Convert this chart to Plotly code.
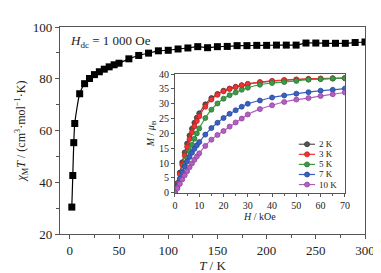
import plotly.graph_objects as go

# Main chart: chi_M T vs T
T = [2, 3, 4, 5, 10, 15, 20, 25, 30, 35, 40, 45, 50, 60, 70, 80, 90, 100, 110, 120, 130,
     140, 150, 160, 170, 180, 190, 200, 210, 220, 230, 240, 250, 260, 270, 280, 290, 300]
chiT = [30.4, 42.6, 55.3, 62.7, 74.2, 78.1, 80.1, 81.6, 82.7, 83.7, 84.6, 85.4, 86.0, 87.7,
        89.0, 89.9, 90.8, 91.0, 91.5, 91.9, 92.4, 92.0, 92.4, 92.5, 92.8, 92.8, 92.9, 92.9,
        93.0, 93.0, 93.0, 93.8, 93.8, 93.7, 93.7, 93.7, 94.0, 94.2]

# Inset: M vs H
H = [0, 1, 2, 3, 4, 5, 6, 7, 8, 9, 10, 12.5, 15, 17.5, 20, 22.5, 25, 27.5, 30, 35, 40, 45, 50, 55, 60, 65, 70]
M_2K = [0, 3.3, 6.8, 10.3, 13.6, 16.6, 19.3, 21.6, 23.6, 25.3, 26.8, 29.8, 31.9, 33.3, 34.4, 35.1, 35.7,
        36.2, 36.6, 37.2, 37.6, 37.9, 38.1, 38.3, 38.4, 38.5, 38.6]
M_3K = [0, 3.1, 6.3, 9.5, 12.6, 15.5, 18.1, 20.4, 22.4, 24.2, 25.8, 29.0, 31.4, 33.0, 34.2, 35.0, 35.6,
        36.2, 36.7, 37.3, 37.7, 38.0, 38.2, 38.4, 38.5, 38.6, 38.7]
M_5K = [0, 2.3, 4.6, 7.0, 9.4, 11.8, 14.1, 16.2, 18.2, 20.0, 21.7, 25.2, 28.0, 30.1, 31.7, 32.9, 33.8,
        34.7, 35.4, 36.4, 37.0, 37.3, 37.7, 38.1, 38.3, 38.5, 38.6]
M_7K = [0, 2.5, 4.8, 6.9, 8.8, 10.6, 12.1, 13.5, 14.8, 16.0, 17.1, 19.6, 21.8, 23.6, 25.2, 26.6, 27.8,
        29.0, 30.0, 31.1, 32.1, 32.8, 33.4, 33.9, 34.4, 34.7, 35.1]
M_10K = [0, 1.5, 3.0, 4.5, 5.9, 7.3, 8.6, 9.9, 11.1, 12.2, 13.3, 15.8, 17.9, 19.5, 20.8, 22.3, 23.7,
         25.0, 26.4, 28.2, 29.5, 30.6, 31.4, 31.9, 32.6, 33.2, 33.8]

series_names = ["2 K", "3 K", "5 K", "7 K", "10 K"]
series_M = [M_2K, M_3K, M_5K, M_7K, M_10K]
series_colors = ["#555555", "#ee3333", "#3d9a48", "#3a5fbf", "#b25fbf"]
edge_colors = ["#333333", "#cc1f1f", "#2a7a35", "#284aa0", "#93449f"]

FONT = "Liberation Serif, Times New Roman, serif"

fig = go.Figure()

fig.add_trace(go.Scatter(
    x=T, y=chiT, mode="lines+markers",
    line=dict(color="black", width=1.2, shape="spline", smoothing=0.6),
    marker=dict(symbol="square", size=7, color="black"),
    showlegend=False, xaxis="x", yaxis="y"))

for name, M, c, e in zip(series_names, series_M, series_colors, edge_colors):
    fig.add_trace(go.Scatter(
        x=H, y=M, mode="lines+markers", name=name,
        line=dict(color=c, width=1.2, shape="spline", smoothing=0.5),
        marker=dict(symbol="circle", size=5, color=c, line=dict(color=e, width=0.8)),
        showlegend=False, xaxis="x2", yaxis="y2"))

# Compact legend drawn in paper coordinates (plotly's legend rows are too tall)
leg_x0, leg_x1, leg_xm, leg_xt = 0.783, 0.836, 0.810, 0.845
leg_top, leg_step = 0.4336, 0.0487
shapes = []
annotations = []
for i, (name, c, e) in enumerate(zip(series_names, series_colors, edge_colors)):
    yy = leg_top - i * leg_step
    shapes.append(dict(type="line", xref="paper", yref="paper", x0=leg_x0, x1=leg_x1, y0=yy, y1=yy,
                       line=dict(color=c, width=1.2)))
    shapes.append(dict(type="circle", xref="paper", yref="paper", xsizemode="pixel", ysizemode="pixel",
                       xanchor=leg_xm, yanchor=yy, x0=-2.5, x1=2.5, y0=-2.5, y1=2.5,
                       fillcolor=c, line=dict(color=e, width=0.8)))
    annotations.append(dict(text=name, xref="paper", yref="paper", x=leg_xt, y=yy,
                            xanchor="left", yanchor="middle", showarrow=False, borderpad=0,
                            font=dict(size=9, family=FONT, color="#222222")))

annotations.append(dict(text="<i>H</i><sub>dc</sub> = 1 000 Oe", xref="paper", yref="paper",
                        x=0.025, y=0.93, xanchor="left", yanchor="middle", showarrow=False,
                        font=dict(size=13, family=FONT, color="#222222")))

axis_common = dict(showline=True, linecolor="#555555", linewidth=1.3, mirror=True,
                   ticks="outside", tickcolor="#555555", showgrid=False, zeroline=False)

fig.update_layout(
    width=381, height=273,
    margin=dict(l=52, r=24, t=13, b=34),
    paper_bgcolor="white", plot_bgcolor="white",
    font=dict(family=FONT, color="#222222"),
    showlegend=False,
    xaxis=dict(range=[-10, 300], tickvals=[0, 50, 100, 150, 200, 250, 300], ticklen=4,
               minor=dict(tickvals=[25, 75, 125, 175, 225, 275], ticklen=3, ticks="outside", tickcolor="#555555"),
               tickfont=dict(size=13), title=dict(text="<i>T</i> / K", font=dict(size=13), standoff=2),
               **axis_common),
    yaxis=dict(range=[20, 100], tickvals=[20, 40, 60, 80, 100], ticklen=4,
               minor=dict(tickvals=[30, 50, 70, 90], ticklen=3, ticks="outside", tickcolor="#555555"),
               tickfont=dict(size=13),
               title=dict(text="<i>χ</i><sub>M</sub><i>T</i> / (cm<sup>3</sup>·mol<sup>−1</sup>·K)",
                          font=dict(size=12), standoff=4),
               **axis_common),
    xaxis2=dict(domain=[0.377, 0.934], anchor="y2", range=[0, 70], tickvals=[0, 10, 20, 30, 40, 50, 60, 70],
                ticklen=3, minor=dict(tickvals=[5, 15, 25, 35, 45, 55, 65], ticklen=2, ticks="outside", tickcolor="#555555"),
                tickfont=dict(size=10), title=dict(text="<i>H</i> / kOe", font=dict(size=10), standoff=2),
                **{**axis_common, "linewidth": 1}),
    yaxis2=dict(domain=[0.199, 0.7726], anchor="x2", range=[0, 40], dtick=5, ticklen=3,
                tickfont=dict(size=10), title=dict(text="<i>M</i> / <i>μ</i><sub>B</sub>", font=dict(size=10), standoff=2),
                **{**axis_common, "linewidth": 1}),
    shapes=shapes,
    annotations=annotations,
)

fig.write_html("out.html")
